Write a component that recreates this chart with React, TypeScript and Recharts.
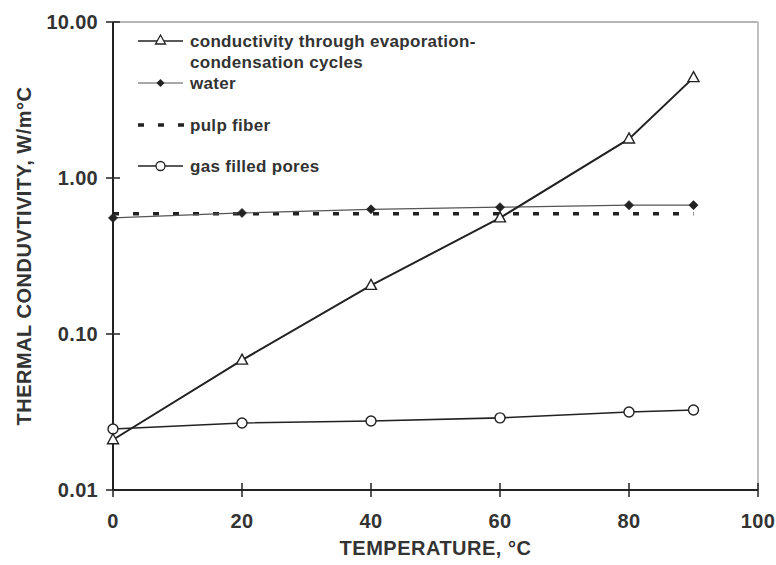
import React from 'react';
import { LineChart, Line, XAxis, YAxis, Legend, ReferenceLine } from 'recharts';

const temperatures = [0, 20, 40, 60, 80, 90];
const evapCondensation = [0.021, 0.068, 0.205, 0.555, 1.78, 4.4];
const water = [0.555, 0.597, 0.63, 0.65, 0.67, 0.67];
const pulpFiber = [0.59, 0.59, 0.59, 0.59, 0.59, 0.59];
const gasPores = [0.0246, 0.0269, 0.0277, 0.029, 0.0316, 0.0326];

const xTicks = [0, 20, 40, 60, 80, 100];
const yTicks = [0.01, 0.1, 1, 10];

const seriesNames = {
  evap: 'conductivity through evaporation-\ncondensation cycles',
  water: 'water',
  pulp: 'pulp fiber',
  gas: 'gas filled pores',
};

const xTitle = 'TEMPERATURE, °C';
const yTitle = 'THERMAL CONDUVTIVITY, W/m°C';

const data = temperatures.map((t, i) => ({
  t,
  evap: evapCondensation[i],
  water: water[i],
  pulp: pulpFiber[i],
  gas: gasPores[i],
}));

const FONT = '"Liberation Sans", Arial, Helvetica, sans-serif';
const INK = '#222';
const TEXT = '#333';

const Triangle = (p: any) => {
  const { cx, cy, index } = p;
  if (cx == null || cy == null) return <g key={`t-${index}`} />;
  return (
    <path
      key={`t-${index}`}
      d={`M${cx},${cy - 6} L${cx + 5.5},${cy + 4} L${cx - 5.5},${cy + 4} Z`}
      fill="#fff"
      stroke={INK}
      strokeWidth={1.4}
    />
  );
};

const OpenCircle = (p: any) => {
  const { cx, cy, index } = p;
  if (cx == null || cy == null) return <g key={`c-${index}`} />;
  return <circle key={`c-${index}`} cx={cx} cy={cy} r={5} fill="#fff" stroke={INK} strokeWidth={1.4} />;
};

const Diamond = (p: any) => {
  const { cx, cy, index } = p;
  if (cx == null || cy == null) return <g key={`d-${index}`} />;
  return (
    <path
      key={`d-${index}`}
      d={`M${cx},${cy - 4.5} L${cx + 4.5},${cy} L${cx},${cy + 4.5} L${cx - 4.5},${cy} Z`}
      fill={INK}
      stroke={INK}
      strokeWidth={0.8}
    />
  );
};

const YTick = (p: any) => {
  const { x, y, payload } = p;
  return (
    <g>
      <line x1={x - 7} x2={x + 7} y1={y} y2={y} stroke={INK} strokeWidth={1.5} />
      <text
        x={x - 15}
        y={y}
        dy="0.36em"
        textAnchor="end"
        fontFamily={FONT}
        fontWeight="bold"
        fontSize={20}
        letterSpacing={0.3}
        fill={TEXT}
      >
        {Number(payload.value).toFixed(2)}
      </text>
    </g>
  );
};

const XTick = (p: any) => {
  const { x, y, payload } = p;
  return (
    <g>
      <line x1={x} x2={x} y1={y - 7} y2={y + 7} stroke={INK} strokeWidth={1.5} />
      <text
        x={x}
        y={y + 31}
        dy="0.36em"
        textAnchor="middle"
        fontFamily={FONT}
        fontWeight="bold"
        fontSize={20}
        letterSpacing={0.3}
        fill={TEXT}
      >
        {payload.value}
      </text>
    </g>
  );
};

const LegendContent = () => {
  const iconX0 = 138;
  const iconX1 = 183;
  const mid = (iconX0 + iconX1) / 2;
  const textX = 190;
  const ts = {
    fontFamily: FONT,
    fontWeight: 'bold' as const,
    fontSize: 17,
    letterSpacing: 0.3,
    fill: TEXT,
  };
  const evapLines = seriesNames.evap.split('\n');
  return (
    <svg width={776} height={200} style={{ display: 'block' }}>
      <line x1={iconX0} x2={iconX1} y1={41} y2={41} stroke={INK} strokeWidth={1.6} />
      <path d={`M${mid},${35} L${mid + 5},${44} L${mid - 5},${44} Z`} fill="#fff" stroke={INK} strokeWidth={1.3} />
      {evapLines.map((l, i) => (
        <text key={i} x={textX} y={41 + i * 21} dy="0.36em" {...ts}>
          {l}
        </text>
      ))}
      <line x1={iconX0} x2={iconX1} y1={83} y2={83} stroke="#555" strokeWidth={1.2} />
      <path d={`M${mid},${79} L${mid + 4},${83} L${mid},${87} L${mid - 4},${83} Z`} fill={INK} />
      <text x={textX} y={83} dy="0.36em" {...ts}>
        {seriesNames.water}
      </text>
      <line
        x1={iconX0}
        x2={iconX1 + 4}
        y1={125}
        y2={125}
        stroke={INK}
        strokeWidth={3.5}
        strokeDasharray="6 14"
      />
      <text x={textX} y={125} dy="0.36em" {...ts}>
        {seriesNames.pulp}
      </text>
      <line x1={iconX0} x2={iconX1} y1={166} y2={166} stroke={INK} strokeWidth={1.4} />
      <circle cx={mid} cy={166} r={4.5} fill="#fff" stroke={INK} strokeWidth={1.3} />
      <text x={textX} y={166} dy="0.36em" {...ts}>
        {seriesNames.gas}
      </text>
    </svg>
  );
};

const YLabel = (p: any) => {
  const vb = p.viewBox || {};
  const cy = vb.y + vb.height / 2;
  return (
    <text
      x={24}
      y={cy}
      transform={`rotate(-90, 24, ${cy})`}
      textAnchor="middle"
      dy="0.36em"
      fontFamily={FONT}
      fontWeight="bold"
      fontSize={20}
      letterSpacing={0.5}
      fill={TEXT}
    >
      {yTitle}
    </text>
  );
};

const XLabel = (p: any) => {
  const vb = p.viewBox || {};
  const cx = vb.x + vb.width / 2;
  return (
    <text
      x={cx}
      y={548}
      textAnchor="middle"
      dy="0.36em"
      fontFamily={FONT}
      fontWeight="bold"
      fontSize={20}
      letterSpacing={0.5}
      fill={TEXT}
    >
      {xTitle}
    </text>
  );
};

export default function App() {
  return (
    <div style={{ position: 'absolute', left: 0, top: 0, width: 776, height: 565, background: '#fff' }}>
      <LineChart width={776} height={565} data={data} margin={{ top: 22, right: 18, bottom: 0, left: 0 }}>
        <XAxis
          dataKey="t"
          type="number"
          domain={[0, 100]}
          ticks={xTicks}
          height={75}
          axisLine={{ stroke: INK, strokeWidth: 2 }}
          tickLine={false}
          tickSize={0}
          tickMargin={0}
          tick={<XTick />}
          interval={0}
          label={<XLabel />}
        />
        <YAxis
          type="number"
          scale="log"
          domain={[0.01, 10]}
          ticks={yTicks}
          width={113}
          allowDataOverflow
          axisLine={{ stroke: INK, strokeWidth: 2 }}
          tickLine={false}
          tickSize={0}
          tickMargin={0}
          tick={<YTick />}
          interval={0}
          label={<YLabel />}
        />
        <ReferenceLine y={10} stroke="#b5b5b5" strokeWidth={2} />
        <ReferenceLine x={100} stroke="#c0c0c0" strokeWidth={2} />
        <Legend
          layout="vertical"
          align="center"
          verticalAlign="middle"
          wrapperStyle={{ left: 0, top: 0, width: 776, height: 200 }}
          content={<LegendContent />}
        />
        <Line
          dataKey="pulp"
          name={seriesNames.pulp}
          stroke={INK}
          strokeWidth={3.5}
          strokeDasharray="6 14"
          dot={false}
          isAnimationActive={false}
        />
        <Line
          dataKey="water"
          name={seriesNames.water}
          stroke="#555"
          strokeWidth={1.2}
          dot={<Diamond />}
          isAnimationActive={false}
        />
        <Line
          dataKey="gas"
          name={seriesNames.gas}
          stroke={INK}
          strokeWidth={1.6}
          dot={<OpenCircle />}
          isAnimationActive={false}
        />
        <Line
          dataKey="evap"
          name={seriesNames.evap}
          stroke={INK}
          strokeWidth={2}
          dot={<Triangle />}
          isAnimationActive={false}
        />
      </LineChart>
    </div>
  );
}
